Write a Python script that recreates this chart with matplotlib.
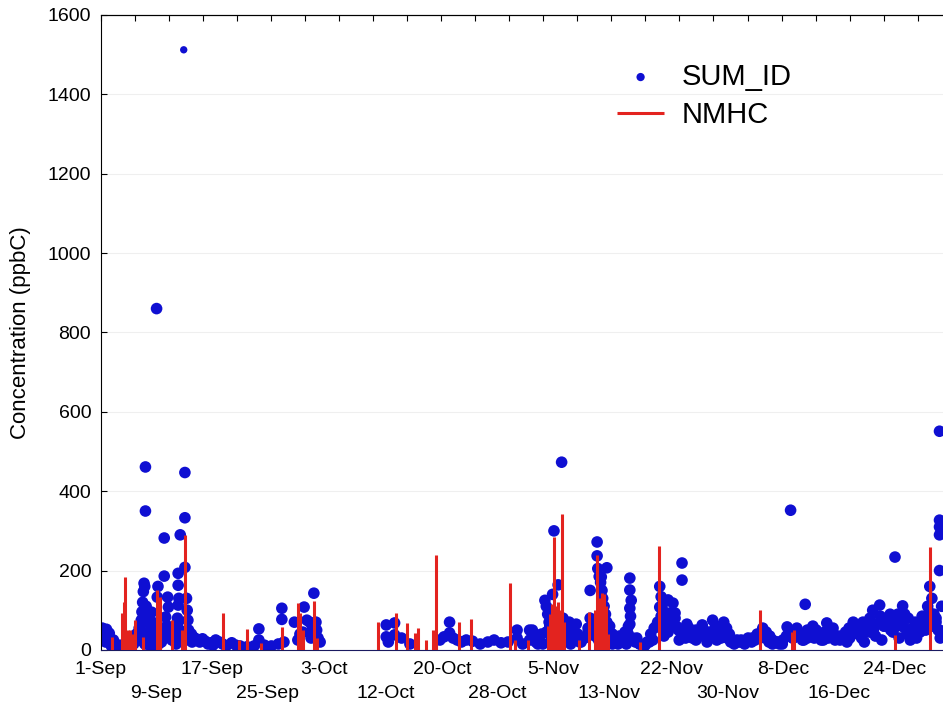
import matplotlib.pyplot as plt
import numpy as np
import pandas as pd

plt.rcParams['font.family'] = ['Liberation Sans', 'DejaVu Sans']

# time axis: days since 1-Sep
start = pd.Timestamp('2009-09-01')
tick_dates = ['2009-09-01', '2009-09-09', '2009-09-17', '2009-09-25', '2009-10-03',
              '2009-10-12', '2009-10-20', '2009-10-28', '2009-11-05', '2009-11-13',
              '2009-11-22', '2009-11-30', '2009-12-08', '2009-12-16', '2009-12-24']

# SUM_ID (ppbC), grouped by episode
sep_a_days = [0.0, 0.2, 0.4, 0.6, 0.8, 1.0, 1.2, 1.4, 1.6, 1.8, 2.1, 2.4, 2.8, 3.2, 3.6, 4.0, 4.4]
sep_a_vals = [45, 55, 50, 38, 52, 30, 42, 20, 15, 25, 12, 10, 8, 12, 10, 15, 12]

sep_b_days = [5.6, 5.7, 5.8, 5.9, 6.0, 6.1, 6.2, 6.3, 6.4, 6.4, 6.5, 6.6, 6.7, 6.8, 6.9, 7.0,
              7.3, 7.4, 7.6, 7.8, 8.0, 8.05, 8.2, 8.1, 8.5, 8.7, 8.9, 9.1, 9.1, 9.6, 9.7,
              9.3, 9.8, 9.0, 10.2, 10.4, 10.6, 10.8, 11.0, 11.1, 11.4, 11.1, 11.2, 11.1,
              11.0, 11.3, 11.9, 12.07, 12.07, 12.07, 12.3, 12.4, 12.5, 12.6, 12.8, 13.0, 13.1]
sep_b_vals = [25, 50, 75, 96, 120, 147, 168, 160, 350, 461, 110, 90, 70, 45, 30, 12,
              95, 70, 45, 20, 860, 60, 160, 133, 35, 20, 55, 186, 282, 133, 108,
              83, 58, 33, 25, 40, 30, 15, 60, 193, 290, 163, 130, 113,
              80, 50, 1512, 447, 333, 208, 130, 100, 75, 50, 25, 40, 20]

sep_c_days = [13.5, 13.8, 14.2, 14.6, 15.0, 15.4, 15.8, 16.1, 16.5, 17.0, 17.5, 18.0, 18.8,
              19.4, 20.0, 21.0, 22.0, 22.7, 22.7, 23.5, 24.5, 25.5, 26.0, 26.0, 26.3]
sep_c_vals = [30, 25, 20, 28, 22, 15, 18, 12, 25, 20, 15, 10, 18,
              12, 10, 8, 10, 53, 25, 12, 10, 15, 105, 77, 20]

# low background readings, early September (every 0.4 day from 0.3)
sep_bg_vals = [30, 20, 35, 10, 15, 8, 12, 10, 6, 8, 10, 15, 40, 55, 30, 15, 25,
               30, 10, 25, 15, 35, 45, 60, 50, 40, 55, 70, 30, 45, 40, 25, 35]

oct_a_days = [27.8, 28.3, 28.6, 29.2, 29.6, 30.0, 30.3, 30.6, 30.9, 31.0, 31.2, 31.5, 29.0, 30.2]
oct_a_vals = [70, 25, 40, 108, 75, 70, 50, 143, 70, 50, 30, 20, 45, 30]

oct_b_days = [41.0, 41.0, 41.3, 42.2, 42.2, 43.2, 44.4, 48.7, 49.3, 50.1, 50.1, 50.6,
              51.2, 51.8, 52.5, 53.4, 54.5, 55.6, 56.5, 57.5, 58.5, 59.8, 59.8, 60.6, 61.6, 61.6]
oct_b_vals = [63, 33, 20, 68, 38, 30, 15, 25, 33, 70, 43, 30,
              25, 20, 25, 22, 15, 20, 25, 18, 20, 50, 30, 15, 50, 25]

nov_a_days = [62.0, 62.4, 62.8, 63.3, 63.8, 64.0, 64.2, 64.4, 64.5, 64.7, 65.1, 64.9, 65.7,
              66.2, 65.3, 65.5, 66.4, 66.7, 67.0, 67.3, 67.7, 68.2, 68.8, 68.3,
              70.3, 70.3, 70.0, 70.6, 71.3, 71.3, 71.4, 71.6, 71.8, 72.0, 72.1, 72.3, 72.5,
              72.7, 72.5, 72.7, 71.9, 73.1, 73.5, 73.9, 74.3, 74.8, 75.3, 75.8, 76.0, 76.0,
              76.2, 76.0, 76.1, 76.0, 75.7, 76.4, 76.8, 77.4, 78.2, 78.8]
nov_a_vals = [50, 30, 15, 40, 125, 110, 90, 70, 50, 30, 300, 140, 164,
              473, 80, 60, 80, 60, 45, 70, 50, 30, 20, 65,
              80, 150, 45, 60, 272, 237, 205, 185, 170, 150, 130, 110, 90,
              70, 50, 207, 184, 60, 40, 25, 15, 30, 45, 60, 181, 151,
              125, 105, 85, 65, 43, 30, 20, 15, 12, 20]

nov_b_days = [79.3, 79.8, 80.3, 80.3, 80.5, 80.7, 81.0, 81.3, 81.5, 81.8, 81.8, 81.2, 80.9,
              82.2, 82.5, 82.8, 83.1, 83.5, 83.5, 83.8, 84.2, 84.6, 85.0, 85.5, 86.0, 86.4,
              86.8, 87.1, 87.9, 88.3, 88.7, 89.1, 89.5, 89.9, 90.3, 90.8, 91.4, 91.9, 92.5,
              93.0, 93.6, 94.3, 94.7, 95.1, 95.6, 96.1, 96.5, 97.2, 97.9]
nov_b_vals = [25, 60, 160, 108, 134, 115, 95, 75, 126, 93, 58, 55, 35,
              118, 93, 58, 25, 219, 176, 45, 65, 45, 30, 50, 35, 63,
              40, 20, 75, 60, 45, 30, 70, 55, 40, 25, 25, 20, 18,
              22, 30, 40, 30, 55, 45, 35, 25, 20, 15]

dec_days = [98.6, 98.9, 99.1, 99.4, 100.0, 100.4, 100.8, 101.2, 101.5, 101.9, 102.3, 102.8,
            103.3, 103.8, 104.3, 104.7, 105.2, 105.7, 106.2, 106.7, 107.2, 107.6,
            108.1, 108.5, 108.9, 109.3, 109.7, 110.1, 110.5, 110.9, 111.3, 111.9, 112.2,
            112.6, 113.0, 113.4, 113.8, 114.1, 114.4, 114.7, 115.0, 115.2, 115.5, 115.9,
            116.3, 116.7, 117.2, 117.7, 118.1, 118.5, 118.8, 119.1, 119.4, 119.7, 120.0,
            120.3, 120.5, 120.5, 120.5, 120.5, 120.5, 120.6, 120.8]
dec_vals = [58, 45, 352, 30, 55, 40, 25, 115, 30, 45, 60, 50,
            35, 25, 68, 45, 55, 30, 25, 35, 20, 30,
            70, 55, 40, 30, 20, 60, 45, 100, 35, 113, 25,
            60, 75, 90, 45, 234, 60, 30, 75, 111, 90, 40,
            25, 55, 30, 45, 70, 50, 110, 160, 130, 90, 70,
            50, 551, 327, 310, 290, 200, 30, 110]

# low background readings, November-December (every 0.5 day from 62.5)
novdec_bg_vals = [20, 35, 15, 45, 60, 40, 25, 30, 20, 35, 15, 25, 40, 20, 30, 55, 45, 35,
                  25, 40, 30, 20, 15, 25, 35, 20, 15, 25, 30, 15, 10, 20,
                  40, 55, 70, 85, 60, 45, 65, 80, 50, 40, 30, 55,
                  35, 25, 40, 55, 30, 45, 35, 25, 50, 40, 30, 20,
                  15, 20, 25, 15, 30, 20, 25, 35, 45, 30, 20, 15,
                  20, 15, 25, 35, 40, 30, 45, 35, 25, 50, 40, 30,
                  35, 25, 45, 30, 40, 25, 35, 30, 45, 55, 40, 60,
                  45, 70, 55, 80, 50, 65, 85, 60, 75, 50, 70, 90,
                  65, 55, 80, 45, 70, 60, 85, 75, 95, 60, 80, 50]

# NMHC (ppbC) spikes
nmhc_days = [1.58, 3.02, 3.30, 3.45, 3.88, 4.17, 4.45, 4.89, 6.03, 8.05, 8.19, 8.48, 10.2,
             11.64, 12.07, 17.53, 19.83, 20.98, 22.99, 26.0, 28.3, 28.6, 29.02, 30.6, 31.03,
             39.8, 42.4, 44.0, 45.1, 45.5, 46.7, 47.7, 48.1, 51.4, 53.2, 58.8, 59.5, 61.4,
             64.2, 64.5, 64.8, 65.1, 65.4, 65.7, 65.9, 66.2, 66.5, 68.7, 70.1, 71.0, 71.3,
             71.7, 72.0, 72.3, 72.6, 72.8, 77.4, 80.2, 94.7, 99.3, 99.6, 114.1, 119.1]
nmhc_vals = [33, 93, 121, 184, 50, 50, 40, 75, 33, 151, 90, 134, 75,
             50, 290, 93, 25, 53, 17, 58, 118, 93, 50, 123, 30,
             70, 92, 68, 42, 55, 25, 50, 239, 70, 77, 168, 25, 25,
             60, 90, 115, 285, 110, 120, 100, 342, 70, 25, 95, 100, 240,
             130, 143, 140, 110, 40, 20, 262, 100, 45, 50, 38, 260]

sep_bg_days = 0.3 + 0.4 * np.arange(len(sep_bg_vals))
novdec_bg_days = 62.5 + 0.5 * np.arange(len(novdec_bg_vals))
novdec_bg_days[27:] += 0.5  # skip the quiet day 76

sum_days = np.concatenate([sep_a_days, sep_b_days, sep_c_days, sep_bg_days, oct_a_days,
                           oct_b_days, nov_a_days, nov_b_days, dec_days, novdec_bg_days])
sum_vals = np.concatenate([sep_a_vals, sep_b_vals, sep_c_vals, sep_bg_vals, oct_a_vals,
                           oct_b_vals, nov_a_vals, nov_b_vals, dec_vals, novdec_bg_vals])

tick_pos = [(pd.Timestamp(d) - start).days for d in tick_dates]
tick_lab = [pd.Timestamp(d).strftime('%-d-%b') for d in tick_dates]

fig = plt.figure(figsize=(9.43, 7.08), dpi=100)
ax = fig.add_axes([0.107, 0.082, 0.893, 0.897])

sizes = np.where(sum_vals > 1000, 28, 70)
ax.scatter(sum_days, sum_vals, s=sizes, color='#0f0fd2', edgecolors='none',
           label='SUM_ID', zorder=2)
ax.vlines(nmhc_days, 0, nmhc_vals, color='#e3231f', lw=2.2, label='NMHC', zorder=3)

ax.set_xlim(0, 121)
ax.set_ylim(0, 1600)
ax.set_yticks(np.arange(0, 1601, 200))

# two staggered rows of date labels
ax.set_xticks(tick_pos[::2])
ax.set_xticklabels(tick_lab[::2])
ax.tick_params(axis='x', length=0, labelsize=14, pad=8)
row2 = ax.secondary_xaxis('bottom')
row2.set_xticks(tick_pos[1::2])
row2.set_xticklabels(tick_lab[1::2])
row2.tick_params(axis='x', length=0, labelsize=14, pad=25)
row2.spines['bottom'].set_visible(False)

top = ax.secondary_xaxis('top')
top.set_xticks(np.arange(0, 121, 4.89))
top.tick_params(axis='x', direction='in', length=4, labeltop=False)

ax.tick_params(axis='y', direction='in', length=4, labelsize=14, pad=7)
ax.grid(axis='y', color='#efefef', lw=0.8, zorder=0)
ax.spines['right'].set_visible(False)
ax.spines['bottom'].set_color('#1a1a60')
ax.set_ylabel('Concentration (ppbC)', fontsize=16, labelpad=12)

ax.legend(loc='upper left', bbox_to_anchor=(0.582, 0.966), frameon=False,
          fontsize=21, handlelength=1.6, handletextpad=0.6, labelspacing=0.35,
          markerscale=0.85)

fig.savefig('out.png', dpi=100)
